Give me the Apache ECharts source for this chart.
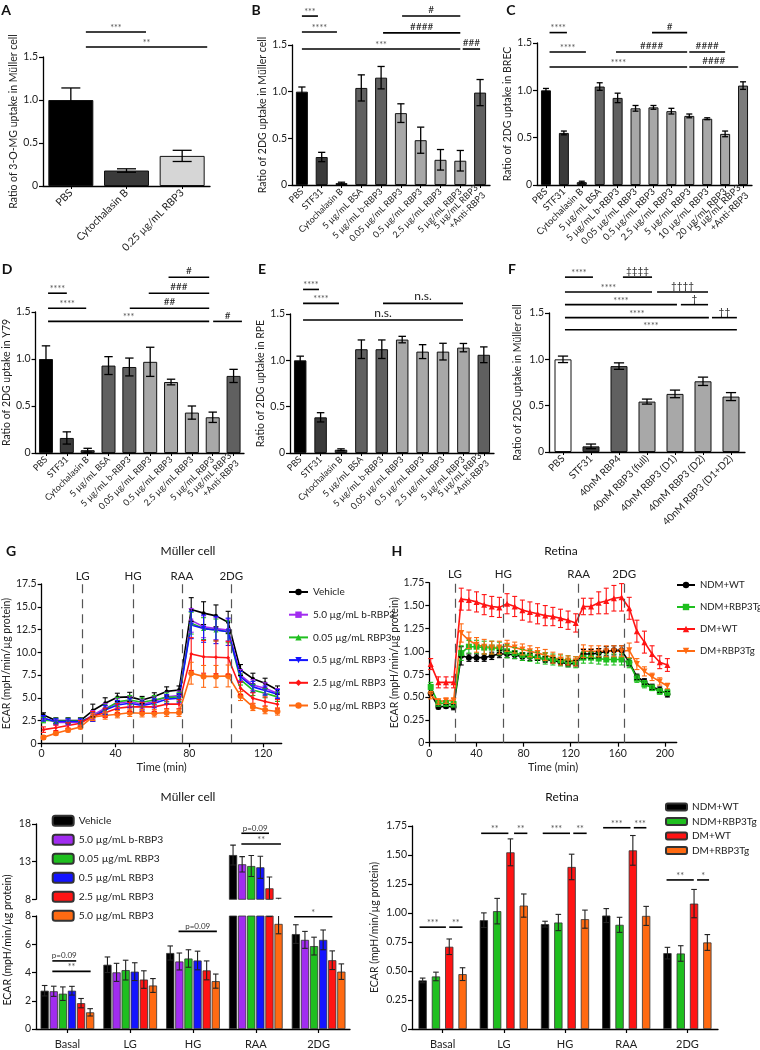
<!DOCTYPE html>
<html><head><meta charset="utf-8">
<script src="https://cdn.jsdelivr.net/npm/echarts@6/dist/echarts.min.js"></script>
<style>html,body{margin:0;padding:0;background:#fff}#c{width:760px;height:1050px}</style>
</head><body><div id="c"></div><script>
const FONT = 'Lato, "Open Sans", sans-serif';

// ---------- Panel A ----------
const aCats = ['PBS', 'Cytochalasin B', '0.25 µg/mL RBP3'];
const aVals = [1.0, 0.18, 0.35];
const aErrs = [0.14, 0.02, 0.065];
const aSig = [[0.27, 1.35, 1.79, '***'], [0.27, 2.45, 1.616, '**']];

// ---------- Panel B ----------
const bCats = ['PBS', 'STF31', 'Cytochalasin B', '5 µg/mL BSA', '5 µg/mL b-RBP3', '0.05 µg/mL RBP3', '0.5 µg/mL RBP3', '2.5 µg/mL RBP3', '5 µg/mL RBP3', '5 µg/mL RBP3\n+Anti-RBP3'];
const bVals = [1.0, 0.30, 0.02, 1.04, 1.15, 0.77, 0.48, 0.27, 0.26, 0.99];
const bErrs = [0.05, 0.05, 0.01, 0.14, 0.12, 0.10, 0.14, 0.11, 0.11, 0.14];
const bSig = [[0, 0.81, 1.81, '***'], [0, 1.77, 1.64, '****'], [5.06, 8.0, 1.81, '#'], [4.1, 8.0, 1.63, '####'], [0, 8.0, 1.457, '***'], [8.12, 9.0, 1.457, '###']];

// ---------- Panel C ----------
const cCats = ['PBS', 'STF31', 'Cytochalasin B', '5 µg/mL BSA', '5 µg/mL b-RBP3', '0.05 µg/mL RBP3', '0.5 µg/mL RBP3', '2.5 µg/mL RBP3', '5 µg/mL RBP3', '10 µg/mL RBP3', '20 µg/mL RBP3', '5 µg/mL RBP3\n+Anti-RBP3'];
const cVals = [1.0, 0.55, 0.03, 1.04, 0.92, 0.81, 0.82, 0.78, 0.73, 0.70, 0.54, 1.05];
const cErrs = [0.02, 0.02, 0.01, 0.04, 0.05, 0.03, 0.02, 0.03, 0.02, 0.01, 0.03, 0.04];
const cSig = [[0.2, 1.17, 1.61, '****'], [5.92, 7.88, 1.61, '#'], [0.2, 2.23, 1.405, '****'], [3.91, 7.88, 1.405, '####'], [8.0, 10.0, 1.405, '####'], [0.2, 7.88, 1.246, '****'], [8.0, 10.73, 1.246, '####']];

// ---------- Panel D ----------
const dCats = bCats;
const dVals = [1.0, 0.16, 0.03, 0.93, 0.915, 0.97, 0.755, 0.43, 0.38, 0.82];
const dErrs = [0.14, 0.065, 0.02, 0.095, 0.095, 0.155, 0.03, 0.07, 0.055, 0.07];
const dSig = [[0.1, 1.0, 1.70, '****'], [5.88, 7.83, 1.87, '#'], [4.93, 7.83, 1.70, '###'], [0.1, 1.93, 1.54, '****'], [4.02, 7.83, 1.54, '##'], [0.1, 7.83, 1.40, '***'], [8.02, 9.4, 1.40, '#']];

// ---------- Panel E ----------
const eCats = bCats;
const eVals = [1.0, 0.385, 0.035, 1.12, 1.12, 1.224, 1.094, 1.094, 1.137, 1.06];
const eErrs = [0.045, 0.05, 0.01, 0.10, 0.10, 0.035, 0.075, 0.09, 0.045, 0.085];
const eSig = [[0.14, 0.92, 1.765, '****'], [0.14, 1.9, 1.615, '****'], [4.06, 7.98, 1.615, 'n.s.'], [0.14, 7.98, 1.435, 'n.s.']];

// ---------- Panel F ----------
const fCats = ['PBS', 'STF31', '40nM RBP4', '40nM RBP3 (full)', '40nM RBP3 (D1)', '40nM RBP3 (D2)', '40nM RBP3 (D1+D2)'];
const fVals = [1.0, 0.061, 0.927, 0.544, 0.627, 0.763, 0.598];
const fErrs = [0.035, 0.025, 0.035, 0.027, 0.041, 0.045, 0.043];
const fSig = [[0.07, 1.07, 1.887, '****'], [2.14, 3.18, 1.887, '‡‡‡‡'], [0.07, 3.18, 1.726, '****'], [3.36, 5.18, 1.726, '††††'], [0.07, 4.07, 1.59, '****'], [4.21, 5.18, 1.59, '†'], [0.07, 5.21, 1.45, '****'], [5.32, 6.21, 1.45, '††'], [0.07, 6.21, 1.32, '****']];

// ---------- Panel G (Müller cell time course) ----------
const gTime = [1, 7.7, 14.3, 21, 27.7, 34.4, 41, 47.7, 54.4, 61, 67.7, 74.4, 81, 87.7, 94.4, 101, 107.7, 114.4, 121, 127.7];
const gNames = ['Vehicle', '5.0 µg/mL b-RBP3', '0.05 µg/mL RBP3', '0.5 µg/mL RBP3', '2.5 µg/mL RBP3', '5.0 µg/mL RBP3'];
const gVehicle = [3.1, 2.5, 2.5, 2.5, 3.6, 4.4, 5.05, 5.1, 4.75, 5.15, 5.7, 5.85, 14.7, 14.3, 14.0, 13.3, 8.05, 7.1, 6.6, 5.85];
const gBRbp3 = [2.75, 2.3, 2.3, 2.3, 3.1, 3.85, 4.4, 4.6, 4.3, 4.6, 5.1, 5.25, 13.5, 12.8, 12.6, 12.45, 7.5, 6.4, 6.05, 5.5];
const gR005 = [2.55, 2.45, 2.45, 2.45, 2.9, 3.7, 4.55, 4.75, 4.5, 4.75, 5.05, 5.1, 13.2, 12.6, 12.45, 12.25, 7.0, 5.85, 5.5, 5.1];
const gR05 = [2.75, 2.4, 2.4, 2.4, 2.9, 3.65, 4.2, 4.4, 4.15, 4.4, 4.85, 4.95, 13.0, 12.6, 12.45, 12.25, 7.3, 6.2, 5.8, 5.4];
const gR25 = [1.5, 1.7, 1.95, 2.2, 3.0, 3.35, 3.85, 4.0, 4.0, 4.0, 4.3, 4.3, 9.8, 9.5, 9.45, 9.4, 6.05, 4.95, 4.6, 4.3];
const gR50 = [0.65, 1.1, 1.45, 1.8, 2.9, 3.05, 3.2, 3.35, 3.3, 3.3, 3.35, 3.35, 7.7, 7.35, 7.35, 7.4, 5.2, 4.0, 3.65, 3.5];
const gVehicleErr = [0.25, 0.3, 0.3, 0.3, 0.7, 0.6, 0.45, 0.5, 0.4, 0.4, 0.5, 0.45, 1.3, 1.25, 1.2, 1.2, 0.6, 0.6, 0.55, 0.45];
const gBRbp3Err = [0.3, 0.3, 0.3, 0.3, 0.5, 0.5, 0.5, 0.5, 0.5, 0.5, 0.5, 0.5, 1.3, 1.2, 1.2, 1.2, 0.6, 0.6, 0.6, 0.5];
const gR005Err = [0.3, 0.3, 0.3, 0.3, 0.5, 0.5, 0.5, 0.5, 0.5, 0.5, 0.5, 0.5, 1.2, 1.2, 1.2, 1.2, 0.6, 0.6, 0.5, 0.5];
const gR05Err = [0.3, 0.3, 0.3, 0.3, 0.5, 0.5, 0.5, 0.5, 0.5, 0.5, 0.5, 0.5, 1.5, 1.5, 1.5, 1.5, 0.6, 0.6, 0.5, 0.5];
const gR25Err = [0.3, 0.3, 0.3, 0.3, 0.5, 0.5, 0.5, 0.5, 0.5, 0.5, 0.5, 0.5, 1.8, 1.8, 1.8, 1.8, 0.7, 0.6, 0.5, 0.5];
const gR50Err = [0.2, 0.2, 0.2, 0.2, 0.4, 0.4, 0.4, 0.4, 0.4, 0.4, 0.4, 0.4, 1.2, 1.2, 1.2, 1.2, 0.5, 0.4, 0.4, 0.4];
const gInject = [22.2, 49.5, 76, 102.7];
const gInjectNames = ['LG', 'HG', 'RAA', '2DG'];

// ---------- Panel H (Retina time course) ----------
const hTime = [1.2, 7.7, 14.2, 20.6, 27.1, 33.6, 40.1, 46.6, 53, 59.5, 66, 72.5, 79, 85.4, 91.9, 98.4, 104.9, 111.4, 117.8, 124.3, 130.8, 137.3, 143.8, 150.2, 156.7, 163.2, 169.7, 176.2, 182.6, 189.1, 195.6, 202.1];
const hNames = ['NDM+WT', 'NDM+RBP3Tg', 'DM+WT', 'DM+RBP3Tg'];
const hNdmWt = [0.54, 0.39, 0.40, 0.39, 0.95, 0.93, 0.93, 0.93, 0.95, 0.97, 0.97, 0.96, 0.94, 0.94, 0.93, 0.91, 0.90, 0.88, 0.86, 0.87, 0.97, 0.97, 0.98, 1.00, 1.01, 1.01, 0.88, 0.72, 0.67, 0.61, 0.58, 0.53];
const hNdmTg = [0.61, 0.43, 0.43, 0.42, 0.98, 1.05, 1.05, 1.04, 1.04, 1.03, 1.00, 0.98, 0.96, 0.95, 0.93, 0.92, 0.91, 0.90, 0.89, 0.88, 0.93, 0.93, 0.92, 0.91, 0.91, 0.91, 0.87, 0.70, 0.64, 0.60, 0.56, 0.55];
const hDmWt = [0.86, 0.66, 0.66, 0.66, 1.57, 1.56, 1.54, 1.51, 1.49, 1.48, 1.52, 1.49, 1.45, 1.43, 1.41, 1.39, 1.38, 1.36, 1.34, 1.31, 1.49, 1.49, 1.53, 1.55, 1.58, 1.59, 1.47, 1.22, 1.10, 0.97, 0.88, 0.85];
const hDmTg = [0.52, 0.45, 0.46, 0.46, 1.20, 1.12, 1.07, 1.05, 1.04, 1.04, 1.06, 1.04, 1.02, 1.00, 0.98, 0.96, 0.93, 0.91, 0.90, 0.89, 1.00, 1.00, 1.00, 1.00, 1.00, 1.00, 1.01, 0.86, 0.78, 0.72, 0.67, 0.62];
const hNdmWtErr = [0.02, 0.02, 0.02, 0.03, 0.10, 0.04, 0.04, 0.04, 0.04, 0.04, 0.04, 0.04, 0.04, 0.04, 0.03, 0.03, 0.03, 0.03, 0.03, 0.03, 0.05, 0.05, 0.05, 0.05, 0.05, 0.05, 0.04, 0.03, 0.03, 0.03, 0.03, 0.03];
const hNdmTgErr = [0.05, 0.03, 0.03, 0.03, 0.08, 0.07, 0.07, 0.07, 0.07, 0.07, 0.07, 0.06, 0.06, 0.06, 0.06, 0.06, 0.06, 0.06, 0.06, 0.06, 0.06, 0.06, 0.06, 0.06, 0.06, 0.06, 0.05, 0.04, 0.04, 0.03, 0.03, 0.03];
const hDmWtErr = [0.06, 0.06, 0.06, 0.06, 0.12, 0.11, 0.11, 0.11, 0.11, 0.11, 0.11, 0.11, 0.11, 0.11, 0.11, 0.11, 0.10, 0.10, 0.10, 0.10, 0.09, 0.09, 0.12, 0.14, 0.14, 0.15, 0.12, 0.12, 0.12, 0.09, 0.07, 0.07];
const hDmTgErr = [0.04, 0.03, 0.03, 0.03, 0.10, 0.09, 0.08, 0.08, 0.07, 0.07, 0.06, 0.06, 0.06, 0.06, 0.06, 0.06, 0.06, 0.06, 0.05, 0.05, 0.07, 0.06, 0.06, 0.06, 0.06, 0.06, 0.08, 0.06, 0.05, 0.04, 0.04, 0.03];
const hInject = [21.8, 62.8, 126.8, 165.5];
const hInjectNames = ['LG', 'HG', 'RAA', '2DG'];

// ---------- Bottom-left (Müller cell bars, broken axis) ----------
const phaseCats = ['Basal', 'LG', 'HG', 'RAA', '2DG'];
const blVehicle = [2.71, 4.55, 5.38, 13.88, 6.72];
const blBRbp3 = [2.67, 4.01, 4.78, 12.65, 6.31];
const blR005 = [2.5, 4.17, 4.99, 12.42, 5.87];
const blR05 = [2.71, 4.06, 4.85, 12.25, 6.31];
const blR25 = [1.83, 3.5, 4.15, 9.46, 4.87];
const blR50 = [1.18, 3.08, 3.39, 7.44, 4.06];
const blVehicleErr = [0.37, 0.55, 0.5, 1.32, 0.66];
const blBRbp3Err = [0.36, 0.64, 0.6, 1.02, 0.6];
const blR005Err = [0.48, 0.7, 0.62, 1.4, 0.63];
const blR05Err = [0.31, 0.63, 0.66, 1.47, 0.7];
const blR25Err = [0.33, 0.62, 0.67, 1.5, 0.66];
const blR50Err = [0.26, 0.49, 0.5, 0.7, 0.55];
const blSigLow = [[-0.24, 0.14, 4.82, 'p=0.09'], [-0.24, 0.37, 4.08, '**'], [1.77, 2.38, 6.91, 'p=0.09'], [3.61, 4.22, 7.95, '*']];
const blSigHigh = [[2.77, 3.21, 16.77, 'p=0.09'], [2.77, 3.40, 15.34, '**']];

// ---------- Bottom-right (Retina bars) ----------
const brNdmWt = [0.419, 0.938, 0.904, 0.978, 0.654];
const brNdmTg = [0.453, 1.016, 0.918, 0.898, 0.651];
const brDmWt = [0.709, 1.523, 1.397, 1.54, 1.081];
const brDmTg = [0.473, 1.064, 0.947, 0.975, 0.746];
const brNdmWtErr = [0.02, 0.063, 0.025, 0.06, 0.05];
const brNdmTgErr = [0.037, 0.11, 0.07, 0.065, 0.067];
const brDmWtErr = [0.067, 0.116, 0.11, 0.128, 0.122];
const brDmTgErr = [0.055, 0.1, 0.078, 0.082, 0.068];
const brSig = [[-0.377, 0.054, 0.878, '***'], [0.108, 0.325, 0.878, '**'], [0.63, 1.075, 1.687, '**'], [1.168, 1.385, 1.687, '**'], [1.636, 2.082, 1.687, '***'], [2.135, 2.354, 1.687, '**'], [2.623, 3.07, 1.735, '***'], [3.124, 3.33, 1.735, '***'], [3.659, 4.104, 1.285, '**'], [4.158, 4.354, 1.285, '*']];

// ---------- styles ----------
const K = '#000000', DK = '#3a3a3a', MD = '#606060', LT = '#a8a8a8';
const aColors = [K, DK, '#d6d6d6'];
const bColors = [K, DK, DK, MD, MD, LT, LT, LT, LT, MD];
const cColors = [K, DK, DK, MD, MD, LT, LT, LT, LT, LT, LT, '#7c7c7c'];
const fColors = ['#ffffff', DK, MD, LT, LT, LT, LT];
const sixColors = ['#000000', '#a12cf0', '#1fbf1f', '#1414ff', '#ff1414', '#ff6a12'];
const sixSymbols = ['circle', 'rect', 'triangle', 'path://M0,0 L10,0 L5,10 Z', 'diamond', 'circle'];
const sixSymbolSizes = [4, 4, 5, 5, 4, 6];
const fourColors = ['#000000', '#1fbf1f', '#ff1414', '#ff6a12'];
const fourSymbols = ['circle', 'rect', 'triangle', 'path://M0,0 L10,0 L5,10 Z'];

const opt = { animation: false, backgroundColor: '#fff', textStyle: { fontFamily: FONT },
  grid: [], xAxis: [], yAxis: [], series: [], legend: [], graphic: [] };

const axLine = { show: true, lineStyle: { color: '#000', width: 1.3 } };
const axTick = { show: true, length: 4, lineStyle: { color: '#000', width: 1.2 } };

function addGrid(r) { opt.grid.push({ left: r[0], top: r[1], width: r[2], height: r[3] }); return opt.grid.length - 1; }

function errSeries(gi, data, offset, cap, color, clip, lw) {
  return { type: 'custom', xAxisIndex: gi, yAxisIndex: gi, clip: !!clip, silent: true, z: 4,
    data: data, encode: { x: 0, y: 1 },
    renderItem: function (p, api) {
      const x = api.value(0), v = api.value(1), e = api.value(2);
      const t = api.coord([x, v + e]), b = api.coord([x, v - e]);
      const cx = t[0] + offset;
      const st = { stroke: color, lineWidth: lw || 1.2 };
      return { type: 'group', children: [
        { type: 'line', shape: { x1: cx, y1: t[1], x2: cx, y2: b[1] }, style: st },
        { type: 'line', shape: { x1: cx - cap, y1: t[1], x2: cx + cap, y2: t[1] }, style: st },
        { type: 'line', shape: { x1: cx - cap, y1: b[1], x2: cx + cap, y2: b[1] }, style: st }] };
    } };
}

function sigFont(lbl) {
  if (lbl === 'n.s.') return { font: '12px ' + FONT, fill: '#222', dy: -1, va: 'bottom' };
  if (lbl.charAt(0) === '*') return { font: '9px ' + FONT, fill: '#555', dy: -4, va: 'middle' };
  if (lbl.charAt(0) === 'p') return { font: '8px ' + FONT, fill: '#333', dy: -1, va: 'bottom' };
  return { font: '10px ' + FONT, fill: '#222', dy: -1, va: 'bottom' };
}

function sigSeries(gi, list) {
  return { type: 'custom', xAxisIndex: gi, yAxisIndex: gi, clip: false, silent: true, z: 5,
    data: list.map(function (s) { return [0, s[2]]; }), encode: { x: 0, y: 1 },
    renderItem: function (p, api) {
      const s = list[p.dataIndex];
      const band = api.size([1, 0])[0];
      const p0 = api.coord([0, s[2]]);
      const x1 = p0[0] + s[0] * band, x2 = p0[0] + s[1] * band, y = p0[1];
      const f = sigFont(s[3]);
      return { type: 'group', children: [
        { type: 'line', shape: { x1: x1, y1: y, x2: x2, y2: y }, style: { stroke: '#000', lineWidth: 1.6 } },
        { type: 'text', style: { text: s[3], x: (x1 + x2) / 2, y: y + f.dy, align: 'center', verticalAlign: f.va, fill: f.fill, font: f.font } }] };
    } };
}

function barPanel(c) {
  const gi = addGrid(c.rect);
  opt.xAxis.push({ type: 'category', gridIndex: gi, data: c.cats, axisLine: axLine,
    axisTick: { show: true, alignWithLabel: true, length: 3, lineStyle: { color: '#000', width: 1 } },
    axisLabel: { rotate: 45, interval: 0, fontSize: c.lf, color: '#222', margin: 5, lineHeight: c.lf + 1.5, fontFamily: FONT } });
  opt.yAxis.push({ type: 'value', gridIndex: gi, min: 0, max: 1.5, interval: 0.5, axisLine: axLine, axisTick: axTick,
    splitLine: { show: false },
    axisLabel: { fontSize: 10.5, color: '#222', margin: 5, fontFamily: FONT, formatter: function (v) { return v === 0 ? '0' : v.toFixed(1); } },
    name: c.yTitle, nameLocation: 'middle', nameGap: c.nameGap, nameRotate: 90,
    nameTextStyle: { fontSize: 10.5, color: '#222', fontFamily: FONT } });
  opt.series.push({ type: 'bar', xAxisIndex: gi, yAxisIndex: gi, barWidth: c.bw,
    data: c.vals.map(function (v, i) { return { value: v, itemStyle: { color: c.colors[i] } }; }),
    itemStyle: { borderColor: '#111', borderWidth: 1 } });
  opt.series.push(errSeries(gi, c.vals.map(function (v, i) { return [i, v, c.errs[i]]; }), 0, Math.min(9.5, Math.max(3, c.bw * 0.3)), '#000', false, 1.3));
  opt.series.push(sigSeries(gi, c.sig));
}

barPanel({ rect: [43, 57, 167, 129], cats: aCats, vals: aVals, errs: aErrs, colors: aColors, sig: aSig, bw: 45, lf: 10.5, nameGap: 22, yTitle: 'Ratio of 3-O-MG uptake in Müller cell' });
barPanel({ rect: [292, 45, 198, 140], cats: bCats, vals: bVals, errs: bErrs, colors: bColors, sig: bSig, bw: 12, lf: 9, nameGap: 24, yTitle: 'Ratio of 2DG uptake in Müller cell' });
barPanel({ rect: [537, 43, 215, 142], cats: cCats, vals: cVals, errs: cErrs, colors: cColors, sig: cSig, bw: 10, lf: 9.5, nameGap: 21, yTitle: 'Ratio of 2DG uptake in BREC' });
barPanel({ rect: [34, 312, 210, 141], cats: dCats, vals: dVals, errs: dErrs, colors: bColors, sig: dSig, bw: 14, lf: 9, nameGap: 16, yTitle: 'Ratio of 2DG uptake in Y79' });
barPanel({ rect: [290, 314, 204, 139], cats: eCats, vals: eVals, errs: eErrs, colors: bColors, sig: eSig, bw: 12.5, lf: 9, nameGap: 22, yTitle: 'Ratio of 2DG uptake in RPE' });
barPanel({ rect: [549, 313, 196, 139], cats: fCats, vals: fVals, errs: fErrs, colors: fColors, sig: fSig, bw: 17, lf: 10, nameGap: 26, yTitle: 'Ratio of 2DG uptake in Müller cell' });

// ---------- line panels ----------
function linePanel(c) {
  const gi = addGrid(c.rect);
  opt.xAxis.push({ type: 'value', gridIndex: gi, min: 0, max: c.xMax, axisLine: axLine,
    axisTick: { show: true, length: 4, customValues: c.xTicks, lineStyle: { color: '#000', width: 1.2 } },
    axisLabel: { customValues: c.xTicks, fontSize: 10.5, color: '#222', margin: 5, fontFamily: FONT },
    splitLine: { show: false },
    name: 'Time (min)', nameLocation: 'middle', nameGap: 19, nameTextStyle: { fontSize: 11, color: '#222', fontFamily: FONT } });
  opt.yAxis.push({ type: 'value', gridIndex: gi, min: 0, max: c.yMax, interval: c.yInt, axisLine: axLine, axisTick: axTick,
    splitLine: { show: false },
    axisLabel: { fontSize: 10.5, color: '#222', margin: 5, fontFamily: FONT, formatter: function (v) { return v === 0 ? '0' : v.toFixed(c.dec); } },
    name: 'ECAR (mpH/min/µg protein)', nameLocation: 'middle', nameGap: c.nameGap, nameRotate: 90,
    nameTextStyle: { fontSize: 10.5, color: '#222', fontFamily: FONT } });
  c.series.forEach(function (s, j) {
    opt.series.push(errSeries(gi, c.time.map(function (t, i) { return [t, s.vals[i], s.errs[i]]; }), 0, 2.5, c.colors[j], false, 1.1));
  });
  c.series.forEach(function (s, j) {
    const ser = { type: 'line', name: c.names[j], xAxisIndex: gi, yAxisIndex: gi, z: 3,
      data: c.time.map(function (t, i) { return [t, s.vals[i]]; }),
      symbol: c.symbols[j], symbolSize: c.sizes[j], showAllSymbol: true,
      lineStyle: { color: c.colors[j], width: 1.6 }, itemStyle: { color: c.colors[j] } };
    if (j === 0) {
      ser.markLine = { silent: true, symbol: ['none', 'none'], animation: false,
        lineStyle: { color: '#555', type: [9, 6], width: 1.2 },
        label: { show: true, position: 'end', formatter: '{b}', fontSize: 11.5, color: '#222', distance: 2, fontFamily: FONT },
        data: c.inject.map(function (x, i) { return { xAxis: x, name: c.injectNames[i] }; }) };
    }
    opt.series.push(ser);
  });
  opt.legend.push({ left: c.legend[0], top: c.legend[1], orient: 'vertical', selectedMode: false, padding: 0,
    itemWidth: c.legend[4], itemHeight: 8, itemGap: c.legend[2], data: c.names,
    textStyle: { fontSize: c.legend[3], color: '#222', fontFamily: FONT, lineHeight: 12 } });
}

linePanel({ rect: [40, 584, 241.7, 159.3], xMax: 130, xTicks: [0, 40, 80, 120], yMax: 17.5, yInt: 2.5, dec: 1, nameGap: 28,
  time: gTime, names: gNames, colors: sixColors, symbols: sixSymbols, sizes: sixSymbolSizes,
  series: [{ vals: gVehicle, errs: gVehicleErr }, { vals: gBRbp3, errs: gBRbp3Err }, { vals: gR005, errs: gR005Err },
           { vals: gR05, errs: gR05Err }, { vals: gR25, errs: gR25Err }, { vals: gR50, errs: gR50Err }],
  inject: gInject, injectNames: gInjectNames, legend: [288, 586, 10.7, 10, 19] });

linePanel({ rect: [429.3, 582.7, 247.4, 160], xMax: 210, xTicks: [0, 40, 80, 120, 160, 200], yMax: 1.75, yInt: 0.25, dec: 2, nameGap: 28,
  time: hTime, names: hNames, colors: fourColors, symbols: fourSymbols, sizes: [6, 6, 6, 6],
  series: [{ vals: hNdmWt, errs: hNdmWtErr }, { vals: hNdmTg, errs: hNdmTgErr }, { vals: hDmWt, errs: hDmWtErr }, { vals: hDmTg, errs: hDmTgErr }],
  inject: hInject, injectNames: hInjectNames, legend: [676, 579, 10, 9.6, 18] });

// ---------- grouped bar panels ----------
function groupedBars(gi, prefix, names, valsList, errsList, colors, bw, gap, clip) {
  const n = valsList.length;
  valsList.forEach(function (vals, j) {
    opt.series.push({ type: 'bar', name: prefix + names[j], xAxisIndex: gi, yAxisIndex: gi, barWidth: bw,
      barGap: (gap / bw * 100) + '%', clip: true, data: vals,
      itemStyle: { color: colors[j], borderColor: '#333', borderWidth: 0.8 } });
  });
  valsList.forEach(function (vals, j) {
    const off = (j - (n - 1) / 2) * (bw + gap);
    opt.series.push(errSeries(gi, vals.map(function (v, i) { return [i, v, errsList[j][i]]; }), off, 2.8, '#222', clip, 1.1));
  });
}
const phaseAxisX = function (gi, show) {
  return { type: 'category', gridIndex: gi, data: phaseCats, show: show, axisLine: axLine,
    axisTick: { show: true, alignWithLabel: true, length: 4, lineStyle: { color: '#000', width: 1.2 } },
    axisLabel: { fontSize: 11, color: '#222', margin: 10, fontFamily: FONT } };
};

// bottom-left upper
const blNames = gNames;
const blVals = [blVehicle, blBRbp3, blR005, blR05, blR25, blR50];
const blErrs = [blVehicleErr, blBRbp3Err, blR005Err, blR05Err, blR25Err, blR50Err];
let gu = addGrid([36, 824, 314, 75.3]);
opt.xAxis.push(phaseAxisX(gu, false));
opt.yAxis.push({ type: 'value', gridIndex: gu, min: 8, max: 18, interval: 5, axisLine: axLine, axisTick: axTick, splitLine: { show: false },
  axisLabel: { fontSize: 10.5, color: '#222', margin: 5, fontFamily: FONT } });
groupedBars(gu, 'bl:', blNames, blVals, blErrs, sixColors, 8.2, 0.9, true);
opt.series.push(sigSeries(gu, blSigHigh));

let gl = addGrid([36, 916, 314, 115]);
opt.xAxis.push(phaseAxisX(gl, true));
opt.yAxis.push({ type: 'value', gridIndex: gl, min: 0, max: 8, interval: 2, axisLine: axLine, axisTick: axTick, splitLine: { show: false },
  axisLabel: { fontSize: 10.5, color: '#222', margin: 5, fontFamily: FONT } });
groupedBars(gl, 'bl:', blNames, blVals, blErrs, sixColors, 8.2, 0.9, true);
opt.series.push(sigSeries(gl, blSigLow));
opt.legend.push({ left: 51.7, top: 814.7, orient: 'vertical', selectedMode: false, padding: 0, itemWidth: 21, itemHeight: 10, itemGap: 7,
  data: blNames.map(function (n) { return 'bl:' + n; }), formatter: function (n) { return n.slice(3); },
  textStyle: { fontSize: 10.3, color: '#222', fontFamily: FONT, lineHeight: 12 } });

// bottom-right
let gr = addGrid([412, 826, 306, 203.3]);
opt.xAxis.push(phaseAxisX(gr, true));
opt.yAxis.push({ type: 'value', gridIndex: gr, min: 0, max: 1.75, interval: 0.25, axisLine: axLine, axisTick: axTick, splitLine: { show: false },
  axisLabel: { fontSize: 10.5, color: '#222', margin: 5, fontFamily: FONT, formatter: function (v) { return v === 0 ? '0' : v.toFixed(2); } },
  name: 'ECAR (mpH/min/µg protein)', nameLocation: 'middle', nameGap: 32, nameRotate: 90,
  nameTextStyle: { fontSize: 10.5, color: '#222', fontFamily: FONT } });
groupedBars(gr, 'br:', hNames, [brNdmWt, brNdmTg, brDmWt, brDmTg], [brNdmWtErr, brNdmTgErr, brDmWtErr, brDmTgErr], fourColors, 8.3, 5, false);
opt.series.push(sigSeries(gr, brSig));
opt.legend.push({ left: 665, top: 801, orient: 'vertical', selectedMode: false, padding: 0, itemWidth: 21, itemHeight: 7, itemGap: 2.5,
  data: hNames.map(function (n) { return 'br:' + n; }), formatter: function (n) { return n.slice(3); },
  textStyle: { fontSize: 10, color: '#222', fontFamily: FONT, lineHeight: 12 } });

// ---------- panel letters, titles ----------
function txt(t, x, y, size, bold, rot) {
  opt.graphic.push({ type: 'text', x: x, y: y, rotation: rot || 0, silent: true,
    style: { text: t, align: 'center', verticalAlign: 'middle', fill: '#111', font: (bold ? 'bold ' : '') + size + 'px ' + FONT } });
}
txt('A', 6, 10, 14, true); txt('B', 256, 10, 14, true); txt('C', 511, 10, 14, true);
txt('D', 7, 269, 14, true); txt('E', 262, 269, 14, true); txt('F', 512, 269, 14, true);
txt('G', 11, 551, 14, true); txt('H', 397, 551, 14, true);
txt('Müller cell', 188, 551, 12); txt('Retina', 561, 551, 12);
txt('Müller cell', 188, 797, 12); txt('Retina', 562, 797, 12);
txt('ECAR (mpH/min/µg protein)', 8, 940, 10.5, false, Math.PI / 2);

const chart = echarts.init(document.getElementById('c'));
chart.setOption(opt);
</script></body></html>
